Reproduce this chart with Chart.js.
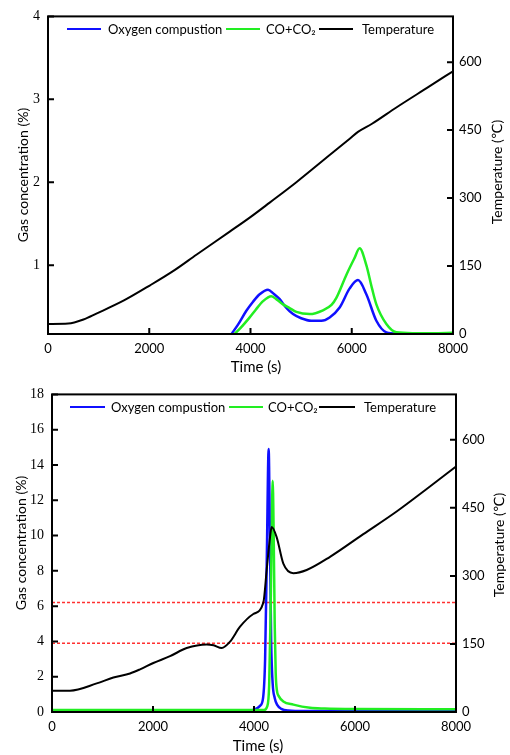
<!DOCTYPE html>
<html>
<head>
<meta charset="utf-8">
<script src="https://cdn.jsdelivr.net/npm/chart.js@4.4.1/dist/chart.umd.min.js"></script>
<style>
  html, body { margin: 0; padding: 0; background: #fff; }
  body { width: 510px; height: 755px; position: relative; overflow: hidden;
         font-family: Lato, "DejaVu Sans", sans-serif; color: #000; }
  .panel { position: absolute; left: 0; width: 510px; }
  .panel canvas { position: absolute; left: 0; top: 0; }
  .lbl { position: absolute; white-space: nowrap; font-size: 14px; line-height: 1; }
  .rot { transform: translate(-50%, -50%) rotate(-90deg); }
  .ctr { transform: translate(-50%, -50%); }
  .leg { position: absolute; white-space: nowrap; font-size: 13px; line-height: 1; transform: translateY(-50%); }
  .sw { position: absolute; height: 0; border-top: 2.5px solid; transform: translateY(-50%); }
</style>
</head>
<body>

<div class="panel" style="top:0;height:378px"><canvas id="chartTop" width="510" height="378"></canvas></div>
<div class="panel" style="top:378px;height:377px"><canvas id="chartBottom" width="510" height="377"></canvas></div>

<!-- titulos y leyendas en HTML -->
<div class="lbl rot" style="left:23px;top:175px">Gas concentration (%)</div>
<div class="lbl rot" style="left:497px;top:172px">Temperature (℃)</div>
<div class="lbl ctr" style="left:256px;top:366px;font-size:15px">Time (s)</div>

<div class="lbl rot" style="left:21px;top:543px">Gas concentration (%)</div>
<div class="lbl rot" style="left:499px;top:545px">Temperature (℃)</div>
<div class="lbl ctr" style="left:258px;top:745px;font-size:15px">Time (s)</div>

<div class="sw" style="left:67px;top:29px;width:34px;border-color:#1010ff"></div>
<div class="leg" style="left:108px;top:29px">Oxygen compustion</div>
<div class="sw" style="left:226px;top:29px;width:34px;border-color:#22ee22"></div>
<div class="leg" style="left:266px;top:29px">CO+CO₂</div>
<div class="sw" style="left:319px;top:29px;width:34px;border-color:#000"></div>
<div class="leg" style="left:362px;top:29px">Temperature</div>

<div class="sw" style="left:70px;top:407px;width:35px;border-color:#1010ff"></div>
<div class="leg" style="left:111px;top:407px">Oxygen compustion</div>
<div class="sw" style="left:229px;top:407px;width:34px;border-color:#22ee22"></div>
<div class="leg" style="left:268px;top:407px">CO+CO₂</div>
<div class="sw" style="left:319px;top:407px;width:36px;border-color:#000"></div>
<div class="leg" style="left:364px;top:407px">Temperature</div>

<script>
// ── Datos: panel superior ────────────────────────────────────
const timeTicks = [0, 2000, 4000, 6000, 8000];
const topGasTicks = [1, 2, 3, 4];
const bottomGasTicks = [0, 2, 4, 6, 8, 10, 12, 14, 16, 18];
const tempTicks = [0, 150, 300, 450, 600];

const topTempTime = [0, 400, 700, 956, 1500, 2009, 2500, 2931, 3590, 3998, 4379, 4906, 5564, 5960, 6123, 6400, 6881, 7540, 8000];
const topTempValues = [22, 23, 32, 45, 74, 107, 141, 175, 226, 258, 290, 335, 395, 431, 446, 464, 500, 547, 580];

const topO2Time = [3600, 3750, 3918, 4050, 4181, 4346, 4450, 4577, 4700, 4840, 5000, 5200, 5400, 5564, 5761, 5959, 6123, 6288, 6486, 6684, 6881, 7200, 7600, 8000];
const topO2Values = [0.15, 0.28, 0.45, 0.56, 0.65, 0.705, 0.66, 0.59, 0.49, 0.41, 0.36, 0.33, 0.33, 0.37, 0.49, 0.72, 0.82, 0.65, 0.33, 0.19, 0.175, 0.175, 0.175, 0.18];

const topCOTime = [3650, 3800, 3984, 4100, 4247, 4412, 4530, 4642, 4780, 4906, 5169, 5432, 5600, 5696, 5893, 6050, 6156, 6288, 6400, 6486, 6684, 6881, 7200, 7600, 8000];
const topCOValues = [0.15, 0.24, 0.37, 0.46, 0.566, 0.626, 0.58, 0.527, 0.48, 0.436, 0.41, 0.456, 0.52, 0.605, 0.882, 1.08, 1.205, 1.0, 0.72, 0.527, 0.29, 0.19, 0.18, 0.18, 0.185];

// ── Datos: panel inferior ────────────────────────────────────
const botTempTime = [0, 356, 885, 1215, 1545, 1743, 2007, 2337, 2667, 3063, 3200, 3360, 3525, 3723, 3987, 4185, 4251, 4317, 4350, 4450, 4581, 4779, 5043, 5505, 6164, 6824, 7400, 8000];
const botTempValues = [47, 47, 63, 76, 85, 94, 108, 123, 141, 149, 147, 141, 155, 188, 216, 241, 313, 385, 408, 385, 327, 306, 313, 342, 392, 442, 490, 541];

const botO2Time = [0, 3800, 3987, 4120, 4180, 4220, 4255, 4290, 4315, 4340, 4370, 4410, 4460, 4540, 4680, 5000, 8000];
const botO2Values = [0.05, 0.05, 0.12, 0.35, 0.8, 3, 9, 14.9, 10, 4, 1.6, 0.8, 0.4, 0.18, 0.08, 0.05, 0.05];

const botCOTime = [0, 4200, 4260, 4300, 4325, 4350, 4370, 4390, 4410, 4430, 4455, 4490, 4580, 4780, 5110, 5400, 6000, 8000];
const botCOValues = [0.11, 0.11, 0.3, 1.5, 5, 10, 13.1, 10, 5, 2.2, 1.2, 0.9, 0.6, 0.42, 0.24, 0.2, 0.17, 0.15];

const thresholdLevels = [6.2, 3.9];

// ── Helpers ──────────────────────────────────────────────────
function pts(times, values) {
    return times.map((t, i) => ({ x: t, y: values[i] }));
}

function serie(data, color, width, axis, order) {
    return {
        data, yAxisID: axis, order,
        borderColor: color, borderWidth: width,
        pointRadius: 0, fill: false,
        cubicInterpolationMode: "monotone"
    };
}

// marco y ticks hacia dentro
const framePlugin = {
    id: "frame",
    afterDraw(chart) {
        const { ctx, chartArea: a, scales } = chart;
        ctx.save();
        ctx.strokeStyle = "#000";
        ctx.lineWidth = 2;
        ctx.strokeRect(a.left, a.top, a.right - a.left, a.bottom - a.top);
        ctx.beginPath();
        scales.x.ticks.forEach(t => {
            const px = scales.x.getPixelForValue(t.value);
            ctx.moveTo(px, a.bottom); ctx.lineTo(px, a.bottom - 6);
        });
        scales.y.ticks.forEach(t => {
            const py = scales.y.getPixelForValue(t.value);
            ctx.moveTo(a.left, py); ctx.lineTo(a.left + 6, py);
        });
        scales.y2.ticks.forEach(t => {
            const py = scales.y2.getPixelForValue(t.value);
            ctx.moveTo(a.right, py); ctx.lineTo(a.right - 6, py);
        });
        ctx.stroke();
        ctx.restore();
    }
};

function makeChart(id, g, datasets) {
    const sansFont = { family: "Lato", size: 13 };
    const serifFont = { family: "Liberation Serif", size: 14 };
    const plain = v => String(v);
    const noGrid = { display: false, drawTicks: false };
    return new Chart(document.getElementById(id), {
        type: "line",
        data: { datasets },
        plugins: [framePlugin],
        options: {
            responsive: false,
            animation: false,
            devicePixelRatio: 1,
            layout: { padding: { top: g.top, left: 0, right: 0, bottom: 0 } },
            plugins: { legend: { display: false }, tooltip: { enabled: false } },
            scales: {
                x: {
                    type: "linear", min: 0, max: 8000,
                    afterFit: s => { s.height = g.xHeight; },
                    afterBuildTicks: s => { s.ticks = timeTicks.map(v => ({ value: v })); },
                    ticks: { font: sansFont, color: "#000", padding: 7, maxRotation: 0, callback: plain },
                    grid: noGrid, border: { display: false }
                },
                y: {
                    position: "left", min: g.gasMin, max: g.gasMax,
                    afterFit: s => { s.width = g.leftW; },
                    afterBuildTicks: s => { s.ticks = g.gasTicks.map(v => ({ value: v })); },
                    ticks: { font: serifFont, color: "#000", padding: 8, callback: plain },
                    grid: noGrid, border: { display: false }
                },
                y2: {
                    position: "right", min: 0, max: g.tempMax,
                    afterFit: s => { s.width = g.rightW; },
                    afterBuildTicks: s => { s.ticks = tempTicks.map(v => ({ value: v })); },
                    ticks: { font: sansFont, color: "#000", padding: 6, callback: plain },
                    grid: noGrid, border: { display: false }
                }
            }
        }
    });
}

// ── Panel superior ───────────────────────────────────────────
makeChart("chartTop",
    { top: 10, xHeight: 44, leftW: 48, rightW: 57, gasMin: 0.17, gasMax: 4, gasTicks: topGasTicks, tempMax: 701 },
    [
        serie(pts(topO2Time, topO2Values), "#1010ff", 2.5, "y", 3),
        serie(pts(topCOTime, topCOValues), "#22ee22", 2.5, "y", 2),
        serie(pts(topTempTime, topTempValues), "#000", 2, "y2", 1)
    ]);

// ── Panel inferior ───────────────────────────────────────────
const thresholdSets = thresholdLevels.map(v => ({
    data: pts([0, 8000], [v, v]), yAxisID: "y", order: 4,
    borderColor: "#ff3030", borderWidth: 1.5, borderDash: [3, 2],
    pointRadius: 0, fill: false
}));

makeChart("chartBottom",
    { top: 9, xHeight: 43, leftW: 52, rightW: 54, gasMin: 0, gasMax: 18, gasTicks: bottomGasTicks, tempMax: 700 },
    [
        ...thresholdSets,
        serie(pts(botO2Time, botO2Values), "#1010ff", 2.5, "y", 3),
        serie(pts(botCOTime, botCOValues), "#22ee22", 2.5, "y", 2),
        serie(pts(botTempTime, botTempValues), "#000", 2, "y2", 1)
    ]);
</script>
</body>
</html>
